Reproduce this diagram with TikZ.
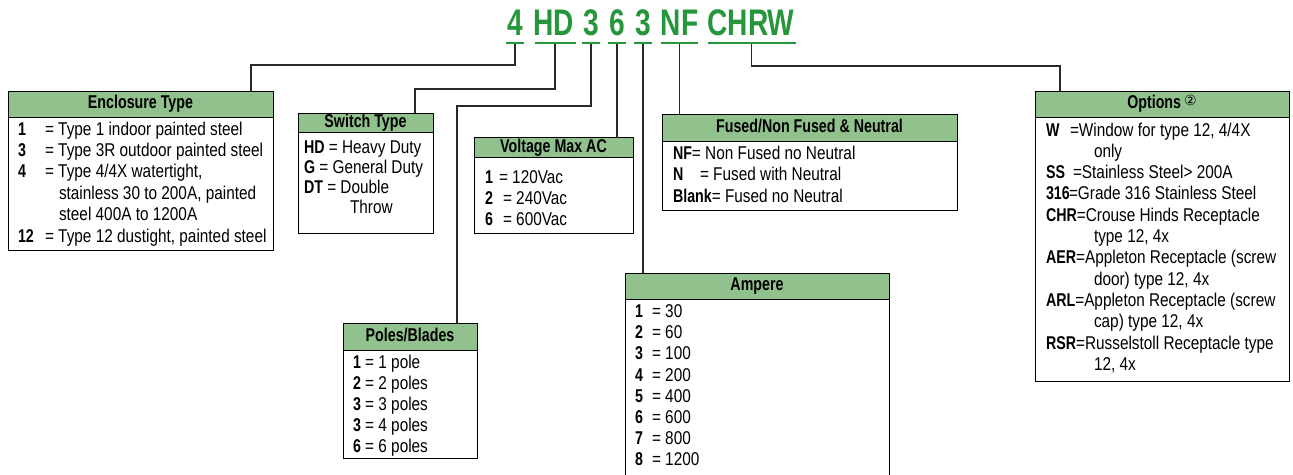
\documentclass[tikz,border=0pt]{standalone}
\usepackage{fontspec}
\setmainfont{Liberation Sans}[FakeStretch=0.83]
\newfontfamily\bcond{Liberation Sans}[FakeStretch=0.77]
\newfontfamily\ccond{Liberation Sans}[FakeStretch=0.76]
\newfontfamily\dejav{DejaVu Sans}
\definecolor{hdrgreen}{RGB}{145,193,140}
\definecolor{codegreen}{RGB}{38,150,60}
\definecolor{connc}{RGB}{40,40,40}
\newcommand\B[1]{{\bcond\bfseries #1}}
\newcommand\kv[6]{\node[lbl] (#1a) at (#2,#3) {#4}; \node[txt] (#1b) at (#5,#3) {#6};}
\newcommand\tx[4]{\node[txt] (#1) at (#2,#3) {#4};}
\begin{document}
\begin{tikzpicture}[x=1pt,y=-1pt,
  every node/.style={inner sep=0pt, outer sep=0pt},
  hdr/.style={draw=black, line width=0.9pt, fill=hdrgreen, anchor=north west,
    text height=13pt, text depth=3.5pt,
    font={\bcond\bfseries\fontsize{18.5}{21}\selectfont}},
  bodybox/.style={draw=black, line width=0.9pt, fill=white, anchor=north west},
  lbl/.style={anchor=base west, font={\bcond\bfseries\fontsize{18.5}{21}\selectfont}},
  txt/.style={anchor=base west, font={\fontsize{18.5}{21}\selectfont}},
  code/.style={anchor=base, text=codegreen, font={\ccond\bfseries\fontsize{37}{37}\selectfont}},
  uln/.style={fill=codegreen, minimum height=2pt},
  conn/.style={draw=connc, line width=1.3pt}]
\useasboundingbox (0,0) rectangle (1293,474);
\clip (0,0) rectangle (1293,474);

% code
\node[code] (c1) at (515,35) {4};
\node[code] (c2) at (553.5,35) {HD};
\node[code] (c3) at (591,35) {3};
\node[code] (c4) at (617,35) {6};
\node[code] (c5) at (643,35) {3};
\node[code] (c6) at (679.5,35) {NF};
\node[code] (c7) at (751,35) {CHRW};
\node[uln, minimum width=18pt] (u1) at (515,43) {};
\node[uln, minimum width=41pt] (u2) at (555,43) {};
\node[uln, minimum width=18pt] (u3) at (591,43) {};
\node[uln, minimum width=18pt] (u4) at (617,43) {};
\node[uln, minimum width=18pt] (u5) at (643,43) {};
\node[uln, minimum width=37pt] (u6) at (679.5,43) {};
\node[uln, minimum width=88pt] (u7) at (751.5,43) {};

% boxes
\node[hdr, minimum width=265pt, minimum height=26pt] (enc) at (8,91) {Enclosure Type};
\node[bodybox, minimum width=265pt, minimum height=133pt] (encb) at (enc.south west) {};
\node[hdr, minimum width=135pt, minimum height=19pt] (sw) at (298,113) {Switch Type};
\node[bodybox, minimum width=135pt, minimum height=101pt] (swb) at (sw.south west) {};
\node[hdr, minimum width=159pt, minimum height=19.5pt] (vol) at (474,137.5) {Voltage Max AC};
\node[bodybox, minimum width=159pt, minimum height=76pt] (volb) at (vol.south west) {};
\node[hdr, minimum width=295pt, minimum height=27pt] (fus) at (662,114) {Fused/Non Fused \& Neutral};
\node[bodybox, minimum width=295pt, minimum height=69pt] (fusb) at (fus.south west) {};
\node[hdr, minimum width=254pt, minimum height=26pt] (opt) at (1035,91) {Options\,{\mdseries\dejav\fontsize{14}{14}\selectfont\raisebox{3pt}{②}}};
\node[bodybox, minimum width=254pt, minimum height=264pt] (optb) at (opt.south west) {};
\node[hdr, minimum width=134pt, minimum height=27pt] (pol) at (343,323) {Poles/Blades};
\node[bodybox, minimum width=134pt, minimum height=108pt] (polb) at (pol.south west) {};
\node[hdr, minimum width=264pt, minimum height=26pt] (amp) at (625,273) {Ampere};
\node[bodybox, minimum width=264pt, minimum height=200pt] (ampb) at (amp.south west) {};

% connectors
\coordinate (b1) at (251,65);
\coordinate (b2) at (415,89);
\coordinate (b3) at (457,106);
\coordinate (b7) at (1060,66);
\draw[conn] (u1.south) |- (b1) -- (b1 |- enc.north);
\draw[conn] (u2.south) |- (b2) -- (b2 |- sw.north);
\draw[conn] (u3.south) |- (b3) -- (b3 |- pol.north);
\draw[conn] (u4.south) -- (u4.south |- vol.north);
\draw[conn] (u5.south) -- (u5.south |- amp.north);
\draw[conn] (u6.south) -- (u6.south |- fus.north);
\draw[conn] (u7.south) |- (b7) -- (b7 |- opt.north);

% Enclosure rows
\kv{e1}{18}{135}{1}{45}{= Type 1 indoor painted steel}
\kv{e2}{18}{156.4}{3}{45}{= Type 3R outdoor painted steel}
\kv{e3}{18}{177.8}{4}{45}{= Type 4/4X watertight,}
\tx{e4}{59}{199.2}{stainless 30 to 200A, painted}
\tx{e5}{59}{220.6}{steel 400A to 1200A}
\kv{e6}{18}{242}{12}{45}{= Type 12 dustight, painted steel}

% Switch rows
\tx{s1}{304}{153}{\B{HD} = Heavy Duty}
\tx{s2}{304}{173.3}{\B{G} = General Duty}
\tx{s3}{304}{193.6}{\B{DT} = Double}
\tx{s4}{350}{213.9}{Throw}

% Voltage rows
\kv{v1}{485}{183}{1}{499}{= 120Vac}
\kv{v2}{485}{204}{2}{503}{= 240Vac}
\kv{v3}{485}{225}{6}{503}{= 600Vac}

% Fused rows
\tx{f1}{673}{159}{\B{NF}= Non Fused no Neutral}
\kv{f2}{673}{180.5}{N}{700}{= Fused with Neutral}
\tx{f3}{673}{202}{\B{Blank}= Fused no Neutral}

% Options rows
\kv{o1}{1046}{136}{W}{1070}{=Window for type 12, 4/4X}
\tx{o2}{1094}{157.3}{only}
\kv{o3}{1046}{178.6}{SS}{1073}{=Stainless Steel> 200A}
\kv{o4}{1046}{199.9}{316}{1069}{=Grade 316 Stainless Steel}
\tx{o5}{1046}{221.2}{\B{CHR}=Crouse Hinds Receptacle}
\tx{o6}{1094}{242.5}{type 12, 4x}
\tx{o7}{1046}{263.8}{\B{AER}=Appleton Receptacle (screw}
\tx{o8}{1094}{285.1}{door) type 12, 4x}
\tx{o9}{1046}{306.4}{\B{ARL}=Appleton Receptacle (screw}
\tx{o10}{1094}{327.7}{cap) type 12, 4x}
\tx{o11}{1046}{349}{\B{RSR}=Russelstoll Receptacle type}
\tx{o12}{1094}{370.3}{12, 4x}

% Poles rows
\tx{p1}{353}{368}{\B{1} = 1 pole}
\tx{p2}{353}{389}{\B{2} = 2 poles}
\tx{p3}{353}{410}{\B{3} = 3 poles}
\tx{p4}{353}{431}{\B{3} = 4 poles}
\tx{p5}{353}{452}{\B{6} = 6 poles}

% Ampere rows
\kv{a1}{635}{317.5}{1}{652}{= 30}
\kv{a2}{635}{338.7}{2}{652}{= 60}
\kv{a3}{635}{359.9}{3}{652}{= 100}
\kv{a4}{635}{381.1}{4}{652}{= 200}
\kv{a5}{635}{402.3}{5}{652}{= 400}
\kv{a6}{635}{423.5}{6}{652}{= 600}
\kv{a7}{635}{444.7}{7}{652}{= 800}
\kv{a8}{635}{465.9}{8}{652}{= 1200}
\end{tikzpicture}
\end{document}
